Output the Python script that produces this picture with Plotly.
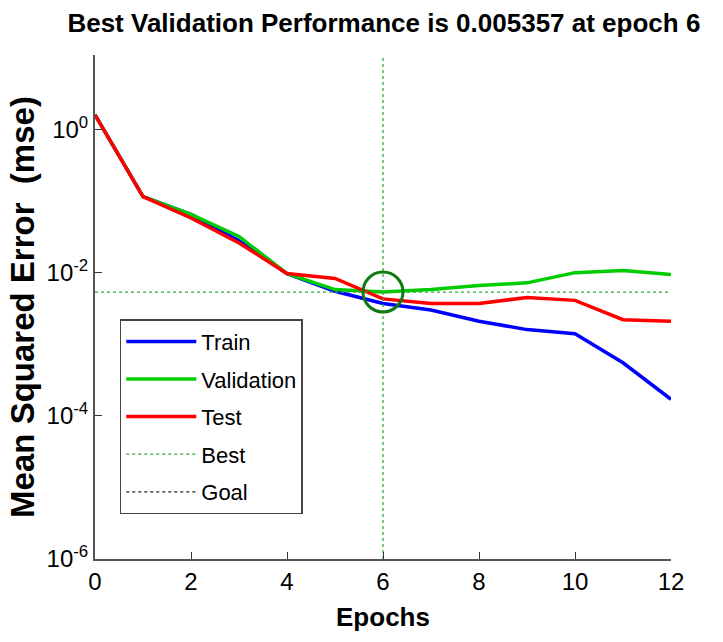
import plotly.graph_objects as go

epochs = list(range(13))
train = [1.6, 0.115, 0.065, 0.028, 0.0097, 0.0055, 0.0037, 0.0030, 0.0021, 0.0016, 0.0014, 0.00055, 0.00017]
validation = [1.6, 0.115, 0.065, 0.032, 0.0097, 0.0058, 0.005357, 0.0058, 0.0066, 0.0072, 0.010, 0.0107, 0.0094]
test = [1.6, 0.115, 0.058, 0.026, 0.0097, 0.0083, 0.0043, 0.0037, 0.0037, 0.0045, 0.0041, 0.0022, 0.0021]
best_epoch = 6
best_perf = 0.005357
y_top = 10 ** 1.04
y_bottom = 1e-6

tick_vals = [1, 1e-2, 1e-4, 1e-6]
tick_text = ["10<sup>0</sup>", "10<sup>-2</sup>", "10<sup>-4</sup>", "10<sup>-6</sup>"]

font = "Liberation Sans, Arial, sans-serif"

fig = go.Figure()
fig.add_trace(go.Scatter(x=epochs, y=train, mode="lines", name="Train",
                         line=dict(color="#0000ff", width=3.5), legendgroup="a"))
fig.add_trace(go.Scatter(x=epochs, y=validation, mode="lines", name="Validation",
                         line=dict(color="#00cc00", width=3.5), legendgroup="b"))
fig.add_trace(go.Scatter(x=epochs, y=test, mode="lines", name="Test",
                         line=dict(color="#ff0000", width=3.5), legendgroup="c"))
fig.add_trace(go.Scatter(x=[epochs[0], epochs[-1]], y=[best_perf, best_perf], mode="lines", name="Best",
                         line=dict(color="#33aa33", width=1.3, dash="dot"), legendgroup="d"))
fig.add_trace(go.Scatter(x=[best_epoch, best_epoch], y=[y_bottom, y_top], mode="lines", name="Best",
                         line=dict(color="#33aa33", width=1.3, dash="dot"), legendgroup="d", showlegend=False))
fig.add_trace(go.Scatter(x=[None], y=[None], mode="lines", name="Goal",
                         line=dict(color="#222222", width=1.3, dash="dot"), legendgroup="e"))
fig.add_trace(go.Scatter(x=[best_epoch], y=[best_perf], mode="markers", showlegend=False,
                         marker=dict(symbol="circle-open", size=40, color="#0f7a0f",
                                     line=dict(color="#0f7a0f", width=3))))

fig.update_layout(
    width=723, height=642,
    margin=dict(l=95, r=52, t=55, b=83),
    paper_bgcolor="white", plot_bgcolor="white",
    title=dict(text="<b>Best Validation Performance is 0.005357 at epoch 6</b>",
               x=0.531, xanchor="center", y=0.965, yanchor="middle",
               font=dict(family=font, size=26, color="black")),
    font=dict(family=font, color="black"),
    showlegend=True,
    legend=dict(x=0.043, y=0.476, xanchor="left", yanchor="top",
                bordercolor="#444444", borderwidth=1.5, bgcolor="white",
                font=dict(family=font, size=22, color="black"),
                tracegroupgap=6, itemwidth=70),
)
fig.update_xaxes(range=[0, 12], tickvals=[0, 2, 4, 6, 8, 10, 12],
                 showline=True, linecolor="#555555", linewidth=2,
                 ticks="inside", ticklen=7, tickcolor="#333333",
                 showgrid=False, zeroline=False,
                 tickfont=dict(family=font, size=24),
                 title=dict(text="<b>Epochs</b>", font=dict(family=font, size=26), standoff=14))
fig.update_yaxes(type="log", range=[-6, 1.04], tickvals=tick_vals, ticktext=tick_text,
                 showline=True, linecolor="#555555", linewidth=2,
                 ticks="inside", ticklen=7, tickcolor="#333333",
                 showgrid=False, zeroline=False,
                 tickfont=dict(family=font, size=24),
                 title=dict(text="<b>Mean Squared Error  (mse)</b>", font=dict(family=font, size=33), standoff=2))

fig.write_html("out.html")
